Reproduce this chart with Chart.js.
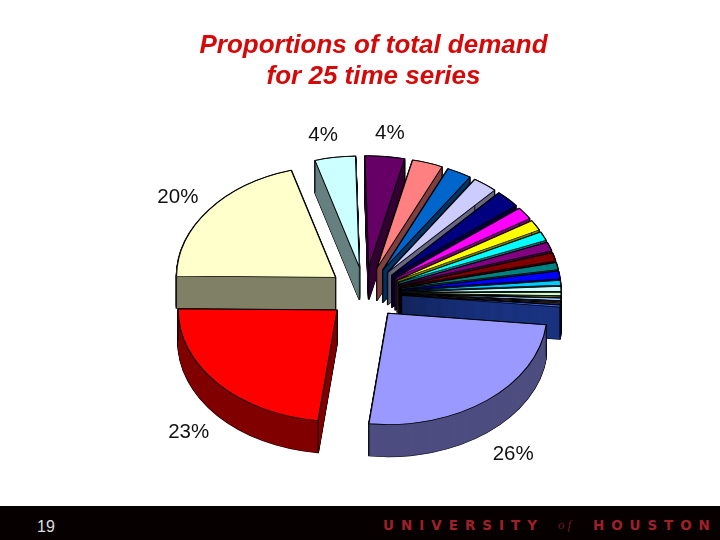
<!DOCTYPE html>
<html>
<head>
<meta charset="utf-8">
<title>Proportions of total demand</title>
<script src="https://cdn.jsdelivr.net/npm/chart.js@4"></script>
<style>
  html, body { margin: 0; padding: 0; background: #fff; }
  #wrap { position: relative; width: 720px; height: 540px; overflow: hidden; }
  #footer { position: absolute; left: 0; top: 506px; width: 720px; height: 34px; background: #070000; }
  #footer span { position: absolute; white-space: nowrap; }
  #pageNo { left: 37px; top: 12px; font: 16px "Liberation Sans", sans-serif; color: #dddddd; }
  .uh { top: 11px; font: bold 13.5px "DejaVu Sans", sans-serif; color: #a02028; }
  #uhOf { left: 558px; top: 11px; font: italic 13px "Liberation Serif", serif; letter-spacing: 3px; color: #6a1a24; }
</style>
</head>
<body>
<div id="wrap">
  <canvas id="demandPie" width="720" height="540"></canvas>
  <div id="footer">
    <span id="pageNo">19</span>
    <span class="uh" style="left:383px;letter-spacing:7px">UNIVERSITY</span>
    <span id="uhOf">of</span>
    <span class="uh" style="left:593px;letter-spacing:6.9px">HOUSTON</span>
  </div>
</div>
<script>
const titleLines = ['Proportions of total demand', 'for 25 time series'];
const seriesNames = ['S1', 'S2', 'S3', 'S4', 'S5', 'S6', 'S7', 'S8', 'S9', 'S10', 'S11', 'S12', 'S13',
    'S14', 'S15', 'S16', 'S17', 'S18', 'S19', 'S20', 'S21', 'S22', 'S23', 'S24', 'S25'];
const shares = [25.2, 23.2, 20.3, 4.1, 4.0, 3.1, 2.5, 2.5, 2.5, 1.8, 1.5, 1.3, 1.3,
    1.2, 1.0, 1.1, 0.7, 0.7, 0.5, 0.2, 0.35, 0.15, 0.15, 0.15, 0.3];
const sliceColors = ['#9999ff', '#ff0000', '#ffffcc', '#ccffff', '#660066', '#ff8080', '#0066cc', '#ccccff',
    '#000080', '#ff00ff', '#ffff00', '#00ffff', '#800080', '#800000', '#008080', '#0000ff',
    '#00ccff', '#ccffff', '#ccffcc', '#ffff99', '#99ccff', '#ff99cc', '#cc99ff', '#ffcc99', '#3366ff'];
const sliceLabels = ['26%', '23%', '20%', '4%', '4%'];

// look of the tilted pie
const pieCentre = { x: 365, y: 293 };
const tilt = 0.7;
const depth = 32;
const explode = 37;
const labelNudges = [[26, 54], [-29, 49], [-31, -13], [-12, -22], [5, -23]];

function darken(hex) {
    const n = parseInt(hex.slice(1), 16);
    const half = v => Math.round(v / 2);
    return `rgb(${half(n >> 16)}, ${half((n >> 8) & 255)}, ${half(n & 255)})`;
}

function drawArcWith(ctx, arc, drop, fill, stroke, width) {
    const original = arc.options;
    arc.options = Object.assign(Object.create(original), {
        backgroundColor: fill, borderColor: stroke, borderWidth: width, borderJoinStyle: 'round'
    });
    ctx.save();
    ctx.translate(0, drop);
    arc.draw(ctx);
    ctx.restore();
    arc.options = original;
}

const tiltedPie = {
    id: 'tiltedPie',
    beforeDatasetDraw(chart, args) {
        const ctx = chart.ctx;
        const arcs = args.meta.data.map((arc, i) => ({ arc, i, mid: (arc.startAngle + arc.endAngle) / 2 }));
        arcs.sort((a, b) => Math.sin(a.mid) - Math.sin(b.mid));
        arcs.forEach(({ arc, i, mid }) => {
            const dx = pieCentre.x - arc.x + Math.cos(mid) * explode;
            const dy = pieCentre.y - arc.y * tilt + Math.sin(mid) * explode * tilt;
            const base = sliceColors[i];
            const side = darken(base);
            ctx.save();
            ctx.translate(dx, dy);
            ctx.scale(1, tilt);
            // outline of the whole block, then the side walls
            for (let d = depth; d >= 0; d -= 1) drawArcWith(ctx, arc, d / tilt, '#000', '#000', 1.8);
            for (let d = depth; d >= 1; d -= 1) drawArcWith(ctx, arc, d / tilt, side, side, 0.6);
            // vertical edges at the apex and the two rim corners
            ctx.strokeStyle = '#000';
            ctx.lineWidth = 1;
            [[0, 0],
             [Math.cos(arc.startAngle) * arc.outerRadius, Math.sin(arc.startAngle) * arc.outerRadius],
             [Math.cos(arc.endAngle) * arc.outerRadius, Math.sin(arc.endAngle) * arc.outerRadius]].forEach(([px, py]) => {
                ctx.beginPath();
                ctx.moveTo(arc.x + px, arc.y + py);
                ctx.lineTo(arc.x + px, arc.y + py + depth / tilt);
                ctx.stroke();
            });
            drawArcWith(ctx, arc, 0, base, '#000', 1.1);
            ctx.restore();
        });
        return false;
    },
    afterDraw(chart) {
        const ctx = chart.ctx;
        const arcs = chart.getDatasetMeta(0).data;
        ctx.save();
        ctx.font = '20.5px "Liberation Sans", sans-serif';
        ctx.fillStyle = '#111';
        ctx.textAlign = 'center';
        ctx.textBaseline = 'middle';
        sliceLabels.forEach((text, i) => {
            const arc = arcs[i];
            const mid = (arc.startAngle + arc.endAngle) / 2;
            const reach = arc.outerRadius + explode;
            ctx.fillText(text,
                pieCentre.x + Math.cos(mid) * reach + labelNudges[i][0],
                pieCentre.y + Math.sin(mid) * reach * tilt + labelNudges[i][1]);
        });
        ctx.restore();
    }
};

new Chart(document.getElementById('demandPie'), {
    type: 'pie',
    data: {
        labels: seriesNames,
        datasets: [{ data: shares, backgroundColor: sliceColors, borderColor: '#000', borderWidth: 1 }]
    },
    options: {
        responsive: false,
        animation: false,
        events: [],
        radius: 159,
        rotation: 96,
        layout: { padding: { left: 27, top: 30 } },
        plugins: {
            legend: { display: false },
            tooltip: { enabled: false },
            title: {
                display: true,
                text: titleLines,
                color: '#d40a0a',
                font: { family: '"Liberation Sans", sans-serif', size: 26, weight: 'bold', style: 'italic', lineHeight: 1.19 },
                padding: 0
            }
        }
    },
    plugins: [tiltedPie]
});
</script>
</body>
</html>
